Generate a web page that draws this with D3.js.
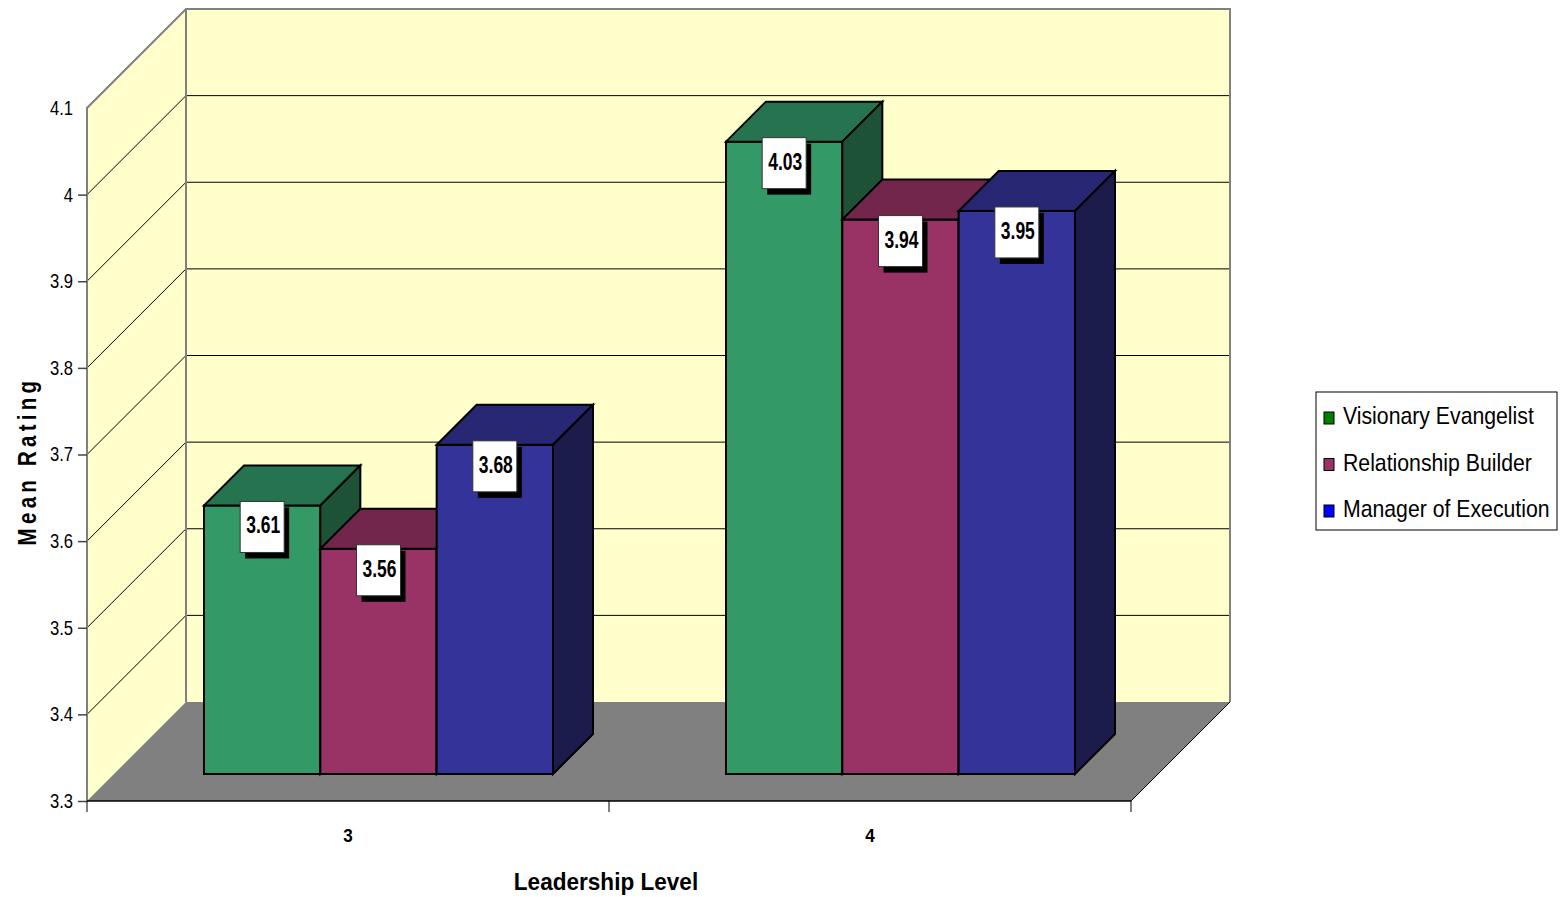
<!DOCTYPE html>
<html>
<head>
<meta charset="utf-8">
<script src="https://cdn.jsdelivr.net/npm/d3@7/dist/d3.min.js"></script>
<style>
  html, body { margin: 0; padding: 0; background: #ffffff; }
  svg { display: block; }
  text { font-family: "Liberation Sans", Arial, sans-serif; }
</style>
</head>
<body>
<svg id="chart" width="1567" height="897"></svg>
<script>
// Mean rating by leadership level, three leadership styles
const categories = ["3", "4"];
const seriesNames = ["Visionary Evangelist", "Relationship Builder", "Manager of Execution"];
const level3Values = [3.61, 3.56, 3.68];
const level4Values = [4.03, 3.94, 3.95];
const yTickValues = [3.3, 3.4, 3.5, 3.6, 3.7, 3.8, 3.9, 4.0, 4.1];

const frontColors = ["#339966", "#993366", "#333399"];
const topColors   = ["#267350", "#72264c", "#272773"];
const sideColors  = ["#1e5236", "#561d3a", "#1b1b4c"];
const legendColors = ["#008000", "#993366", "#0000ff"];

const rows = categories.map((c, i) => ({
  category: c,
  values: [level3Values, level4Values][i]
}));

const svg = d3.select("#chart");

// squeeze glyphs horizontally to get a narrow face
function condense(sel, factor) {
  sel.each(function () {
    const w = this.getComputedTextLength();
    this.setAttribute("textLength", (w * factor).toFixed(2));
    this.setAttribute("lengthAdjust", "spacingAndGlyphs");
  });
}

// plot geometry (front plane of the 3D box)
const left = 87, right = 1131, floorY = 801, topY = 108;
const depth = 99;              // wall depth offset (dx = -dy)
const barFront = 27, barDepth = 40;

const y = d3.scaleLinear().domain([3.3, 4.1]).range([floorY, topY]);
const x0 = d3.scaleBand().domain(categories).range([left, right]);
const x1 = d3.scaleBand().domain(seriesNames).range([90, 439]);

const wallFill = "#ffffcc", wallEdge = "#808080";

// left side wall
svg.append("polygon")
  .attr("points", [[left, y(4.1)], [left + depth, y(4.1) - depth], [left + depth, floorY - depth], [left, floorY]].join(" "))
  .attr("fill", wallFill);

// back wall
svg.append("rect")
  .attr("x", left + depth).attr("y", y(4.1) - depth)
  .attr("width", right - left).attr("height", floorY - y(4.1))
  .attr("fill", wallFill);

// floor
svg.append("polygon")
  .attr("points", [[left, floorY], [right, floorY], [right + depth, floorY - depth], [left + depth, floorY - depth]].join(" "))
  .attr("fill", "#808080");

// gridlines on back wall and side wall
const gridVals = yTickValues.filter(v => v > 3.3 + 1e-9 && v < 4.1 - 1e-9);
svg.append("g").selectAll("line").data(gridVals).join("line")
  .attr("x1", left + depth).attr("x2", right + depth)
  .attr("y1", d => y(d) - depth).attr("y2", d => y(d) - depth)
  .attr("stroke", "#000").attr("stroke-width", 1);
svg.append("g").selectAll("line").data(gridVals).join("line")
  .attr("x1", left).attr("x2", left + depth)
  .attr("y1", d => y(d)).attr("y2", d => y(d) - depth)
  .attr("stroke", "#000").attr("stroke-width", 1);

// wall outlines
svg.append("polyline")
  .attr("points", [[left, floorY], [left, y(4.1)], [left + depth, y(4.1) - depth], [right + depth, y(4.1) - depth], [right + depth, floorY - depth]].join(" "))
  .attr("fill", "none").attr("stroke", wallEdge).attr("stroke-width", 2);
svg.append("line")
  .attr("x1", left + depth).attr("x2", left + depth)
  .attr("y1", y(4.1) - depth).attr("y2", floorY - depth)
  .attr("stroke", wallEdge).attr("stroke-width", 2);

// right floor edge
svg.append("line").attr("x1", right).attr("y1", floorY).attr("x2", right + depth).attr("y2", floorY - depth)
  .attr("stroke", "#000").attr("stroke-width", 1);

// bars
const barData = [];
rows.forEach(r => r.values.forEach((v, i) => {
  const w = x1.bandwidth();
  const X = x0(r.category) + x1(seriesNames[i]) + barFront;
  const top = y(v) - barFront;
  const bottom = y(3.3) - barFront;
  barData.push({ v, i, X, w, top, bottom });
}));

const barG = svg.append("g");
barData.forEach(b => {
  const g = barG.append("g").attr("stroke", "#000").attr("stroke-width", 2).attr("stroke-linejoin", "miter");
  g.append("rect").attr("x", b.X).attr("y", b.top).attr("width", b.w).attr("height", b.bottom - b.top)
    .attr("fill", frontColors[b.i]);
  g.append("polygon")
    .attr("points", [[b.X, b.top], [b.X + b.w, b.top], [b.X + b.w + barDepth, b.top - barDepth], [b.X + barDepth, b.top - barDepth]].join(" "))
    .attr("fill", topColors[b.i]);
  g.append("polygon")
    .attr("points", [[b.X + b.w, b.top], [b.X + b.w + barDepth, b.top - barDepth], [b.X + b.w + barDepth, b.bottom - barDepth], [b.X + b.w, b.bottom]].join(" "))
    .attr("fill", sideColors[b.i]);
});

// value labels
const boxW = 44, boxH = 51;
const labG = svg.append("g");
barData.forEach(b => {
  const cx = b.X + b.w / 2;
  const bx = cx - boxW / 2, by = b.top - 4;
  labG.append("rect").attr("x", bx + 5).attr("y", by + 6).attr("width", boxW).attr("height", boxH).attr("fill", "#000");
  labG.append("rect").attr("x", bx).attr("y", by).attr("width", boxW).attr("height", boxH)
    .attr("fill", "#fff").attr("stroke", "#333").attr("stroke-width", 1);
  labG.append("text").attr("x", cx + 1).attr("y", by + 32)
    .attr("text-anchor", "middle").attr("font-size", 23).attr("font-weight", "bold").attr("fill", "#000")
    .text(d3.format(".2f")(b.v))
    .call(condense, 0.76);
});

// y axis
const yAxis = svg.append("g").attr("transform", `translate(${left},0)`)
  .call(d3.axisLeft(y).tickValues(yTickValues).tickFormat(d3.format("")).tickSize(9).tickPadding(5));
yAxis.select(".domain").remove();
yAxis.selectAll(".tick line").attr("stroke", "#444").attr("stroke-width", 1.5)
  .attr("opacity", d => d >= 4.1 - 1e-9 ? 0 : 1);
yAxis.selectAll(".tick text").attr("font-size", 20).attr("fill", "#000")
  .style("font-family", "'Liberation Sans', Arial, sans-serif")
  .call(condense, 0.83);

// x axis
svg.append("line").attr("x1", left).attr("x2", right).attr("y1", floorY).attr("y2", floorY)
  .attr("stroke", "#000").attr("stroke-width", 1.5);
const xAxis = svg.append("g").attr("transform", `translate(0,${floorY})`)
  .call(d3.axisBottom(x0).tickSize(0).tickPadding(28));
xAxis.select(".domain").remove();
xAxis.selectAll(".tick text").attr("font-size", 19).attr("font-weight", "bold").attr("fill", "#000")
  .style("font-family", "'Liberation Sans', Arial, sans-serif")
  .call(condense, 0.9);
const bounds = [x0.range()[0], ...categories.map(c => x0(c) + x0.bandwidth())];
svg.append("g").selectAll("line").data(bounds).join("line")
  .attr("x1", d => d).attr("x2", d => d).attr("y1", floorY).attr("y2", floorY + 11)
  .attr("stroke", "#000").attr("stroke-width", 1);

// axis titles
svg.append("text").attr("x", 606).attr("y", 890)
  .attr("text-anchor", "middle").attr("font-size", 24).attr("font-weight", "bold").text("Leadership Level")
  .call(condense, 0.94);
svg.append("text").attr("transform", "translate(36,461) rotate(-90)")
  .attr("text-anchor", "middle").attr("font-size", 25).attr("font-weight", "bold")
  .attr("letter-spacing", 5.2).text("Mean Rating")
  .call(condense, 0.82);

// legend
const lg = svg.append("g");
lg.append("rect").attr("x", 1316).attr("y", 392).attr("width", 241).attr("height", 138)
  .attr("fill", "#fff").attr("stroke", "#000").attr("stroke-width", 1);
seriesNames.forEach((name, i) => {
  const base = 424 + i * 46.5;
  lg.append("rect").attr("x", 1324).attr("y", base - 12).attr("width", 10).attr("height", 12)
    .attr("fill", legendColors[i]).attr("stroke", "#000").attr("stroke-width", 1);
  lg.append("text").attr("transform", `translate(1343,${base}) scale(0.885,1)`)
    .attr("font-size", 24).attr("fill", "#000").text(name);
});
</script>
</body>
</html>
